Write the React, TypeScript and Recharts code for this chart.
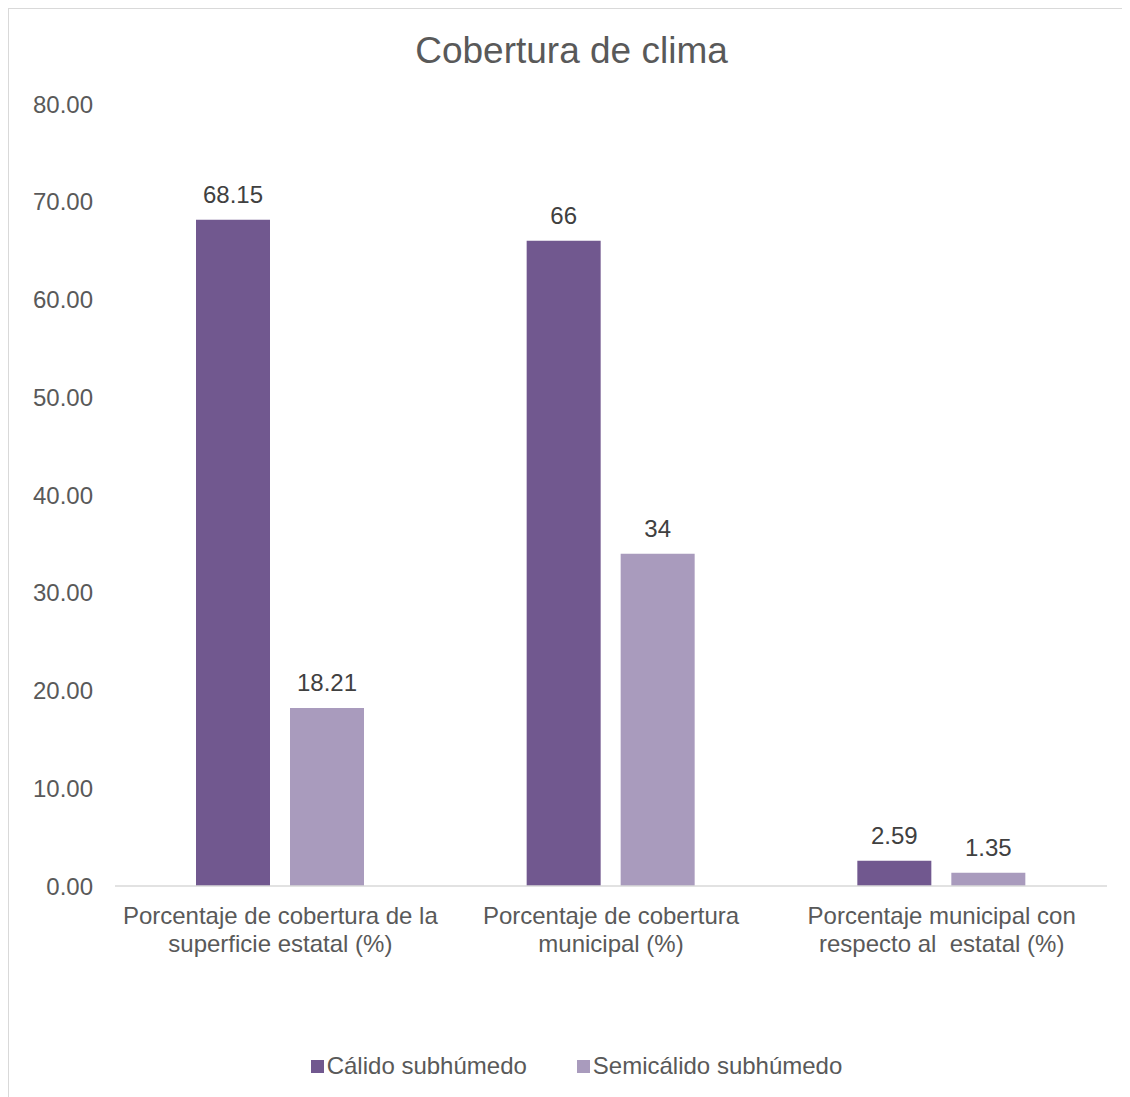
import React from "react";
import { BarChart, Bar, XAxis, YAxis, LabelList, Legend } from "recharts";

const categories = [
  "Porcentaje de cobertura de la\nsuperficie estatal (%)",
  "Porcentaje de cobertura\nmunicipal (%)",
  "Porcentaje municipal con\nrespecto al  estatal (%)",
];
const calidoValues = [68.15, 66, 2.59];
const semicalidoValues = [18.21, 34, 1.35];
const seriesNames = ["Cálido subhúmedo", "Semicálido subhúmedo"];
const yTicks = [0, 10, 20, 30, 40, 50, 60, 70, 80];

const DARK = "#71588f";
const LIGHT = "#a99bbd";
const FONT = "'Liberation Sans', Arial, sans-serif";

const data = categories.map((c, i) => ({
  name: c,
  calido: calidoValues[i],
  semicalido: semicalidoValues[i],
}));

const CategoryTick = (props: any) => {
  const { x, y, payload } = props;
  const lines = String(payload.value).split("\n");
  return (
    <text
      x={x}
      y={y + 38}
      textAnchor="middle"
      fill="#595959"
      fontSize={24}
      fontFamily={FONT}
      style={{ whiteSpace: "pre" }}
    >
      {lines.map((l, i) => (
        <tspan key={i} x={x} dy={i === 0 ? 0 : 28}>
          {l}
        </tspan>
      ))}
    </text>
  );
};

const LegendContent = (props: any) => {
  const { payload } = props;
  return (
    <div
      style={{
        display: "flex",
        justifyContent: "center",
        alignItems: "center",
        fontFamily: FONT,
        fontSize: 24,
        color: "#595959",
        lineHeight: "28px",
        paddingLeft: 14,
      }}
    >
      {(payload || []).map((p: any, i: number) => (
        <span
          key={i}
          style={{ display: "inline-flex", alignItems: "center", marginRight: i === 0 ? 50 : 0 }}
        >
          <span
            style={{
              display: "inline-block",
              width: 13,
              height: 13,
              background: p.color,
              marginRight: 3,
            }}
          />
          <span style={{ whiteSpace: "pre" }}>{p.value}</span>
        </span>
      ))}
    </div>
  );
};

export default function App() {
  return (
    <div
      style={{
        position: "relative",
        width: 1122,
        height: 1089,
        boxSizing: "border-box",
        borderLeft: "1px solid #d9d9d9",
        borderTop: "1px solid #d9d9d9",
        background: "#fff",
      }}
    >
      <div
        style={{
          position: "absolute",
          top: 23,
          left: 2,
          width: 1121,
          textAlign: "center",
          fontFamily: FONT,
          fontSize: 37,
          lineHeight: "37px",
          color: "#595959",
        }}
      >
        Cobertura de clima
      </div>
      <BarChart
        width={1121}
        height={1088}
        data={data}
        margin={{ top: 95, right: 23, bottom: 181, left: 0 }}
        barGap={20}
        barSize={74}
      >
        <XAxis
          dataKey="name"
          axisLine={{ stroke: "#d9d9d9", strokeWidth: 1.5 }}
          tickLine={false}
          tickSize={0}
          tickMargin={0}
          interval={0}
          tick={<CategoryTick />}
        />
        <YAxis
          width={106}
          domain={[0, 80]}
          ticks={yTicks}
          axisLine={false}
          tickLine={false}
          tickSize={0}
          tickMargin={22}
          tickFormatter={(v: number) => v.toFixed(2)}
          tick={{ fill: "#595959", fontSize: 24, fontFamily: FONT }}
        />
        <Legend
          layout="horizontal"
          verticalAlign="middle"
          align="center"
          wrapperStyle={{ top: 1043, left: 0, width: 1121 }}
          content={<LegendContent />}
        />
        <Bar dataKey="calido" name={seriesNames[0]} fill={DARK} isAnimationActive={false}>
          <LabelList
            dataKey="calido"
            position="top"
            offset={17}
            fill="#404040"
            fontSize={24}
            fontFamily={FONT}
          />
        </Bar>
        <Bar dataKey="semicalido" name={seriesNames[1]} fill={LIGHT} isAnimationActive={false}>
          <LabelList
            dataKey="semicalido"
            position="top"
            offset={17}
            fill="#404040"
            fontSize={24}
            fontFamily={FONT}
          />
        </Bar>
      </BarChart>
    </div>
  );
}
